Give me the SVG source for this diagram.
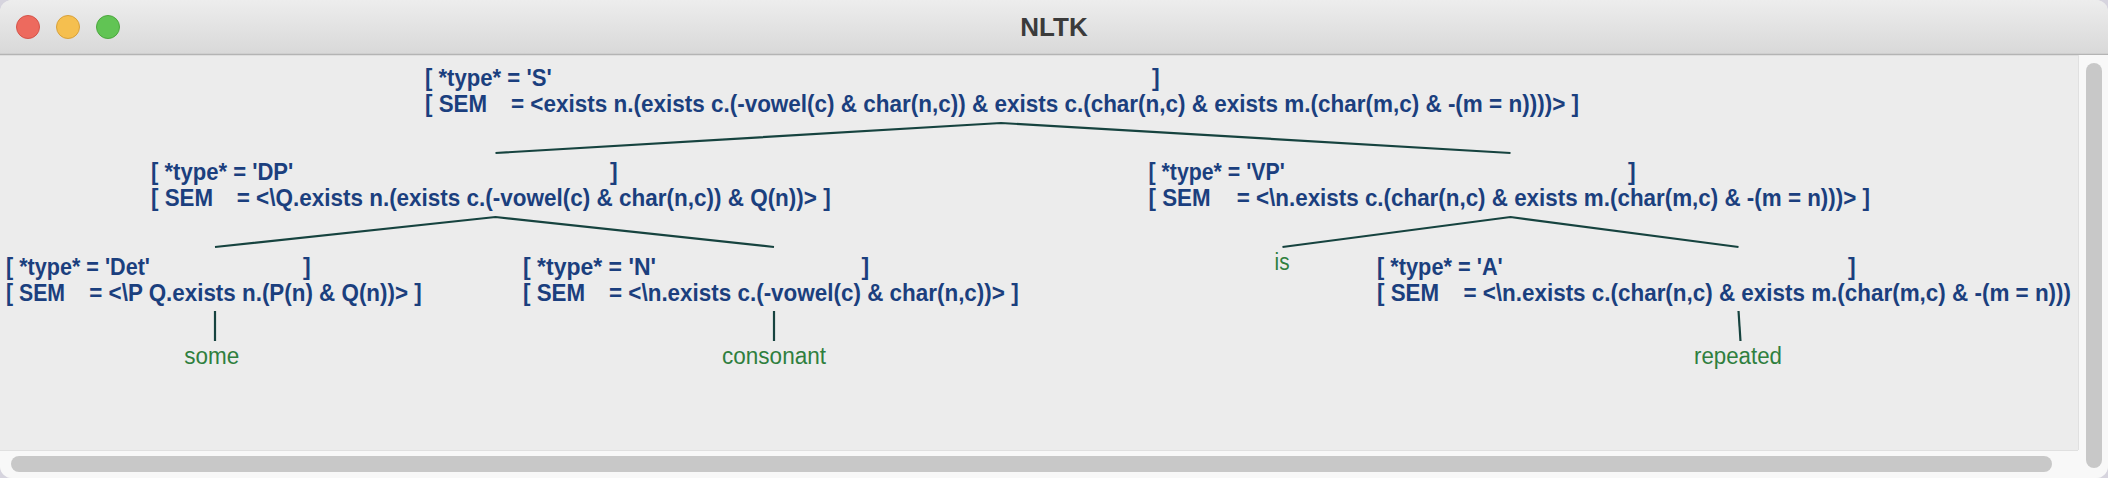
<svg xmlns="http://www.w3.org/2000/svg" width="2108" height="478" viewBox="0 0 2108 478">
<defs>
<linearGradient id="tb" x1="0" y1="0" x2="0" y2="1">
<stop offset="0" stop-color="#ededed"/>
<stop offset="1" stop-color="#d8d8d8"/>
</linearGradient>
<clipPath id="win"><rect x="0" y="0" width="2108" height="478" rx="12" ry="12"/></clipPath>
<style>
.lbl{font-family:"Liberation Sans",Arial,Helvetica,sans-serif;font-size:23px;font-weight:bold;fill:#1b3f7e}
.leaf{font-family:"Liberation Sans",Arial,Helvetica,sans-serif;font-size:23px;fill:#2f7f3e}
.edge{stroke:#16433f;stroke-width:2.2;fill:none}
.title{font-family:"Liberation Sans",Arial,Helvetica,sans-serif;font-size:26px;font-weight:bold;fill:#3b3b3b}
</style>
</defs>
<rect x="0" y="0" width="2108" height="478" fill="#d6d4de"/>
<g id="window" clip-path="url(#win)">
<rect x="0" y="0" width="2108" height="478" fill="#ececec"/>
<rect x="0" y="0" width="2108" height="55" fill="url(#tb)"/>
<line x1="0" y1="54.5" x2="2108" y2="54.5" stroke="#b4b4b4" stroke-width="1.5"/>
<circle cx="28" cy="27" r="11.5" fill="#ed6a5e" stroke="#d4544a" stroke-width="1"/>
<circle cx="68" cy="27" r="11.5" fill="#f5bf4f" stroke="#d8a13b" stroke-width="1"/>
<circle cx="108" cy="27" r="11.5" fill="#61c454" stroke="#4ca73e" stroke-width="1"/>
<text class="title" x="1054" y="36" text-anchor="middle">NLTK</text>
<rect x="2078" y="55" width="30" height="423" fill="#f8f8f8"/>
<line x1="2078.5" y1="55" x2="2078.5" y2="450" stroke="#e0e0e0" stroke-width="1"/>
<rect x="2086" y="63" width="16" height="405" rx="8" ry="8" fill="#c8c8c8"/>
<rect x="0" y="450" width="2078" height="28" fill="#f8f8f8"/>
<line x1="0" y1="450.5" x2="2078" y2="450.5" stroke="#e0e0e0" stroke-width="1"/>
<rect x="11" y="456" width="2041" height="16" rx="8" ry="8" fill="#c8c8c8"/>
</g>
<g id="connectors">
<path class="edge" d="M495.5,153 L1001,123 L1510.5,153"/>
<path class="edge" d="M215,247 L495.5,217 L774,247"/>
<path class="edge" d="M1282.5,247 L1510.5,217 L1738.5,247"/>
<path class="edge" d="M215,311 V341"/>
<path class="edge" d="M774,311 V341"/>
<path class="edge" d="M1738.5,311 L1740.5,341"/>
</g>
<g id="node-S">
<text class="lbl" x="425" y="86" textLength="126.7" lengthAdjust="spacingAndGlyphs">[ *type* = 'S'</text>
<text class="lbl" x="1152" y="86">]</text>
<text class="lbl" x="425" y="112" textLength="62" lengthAdjust="spacingAndGlyphs">[ SEM</text>
<text class="lbl" x="511" y="112" textLength="1068" lengthAdjust="spacingAndGlyphs">= &lt;exists n.(exists c.(-vowel(c) &amp; char(n,c)) &amp; exists c.(char(n,c) &amp; exists m.(char(m,c) &amp; -(m = n))))&gt; ]</text>
</g>
<g id="node-DP">
<text class="lbl" x="151" y="180" textLength="142.3" lengthAdjust="spacingAndGlyphs">[ *type* = 'DP'</text>
<text class="lbl" x="610" y="180">]</text>
<text class="lbl" x="151" y="206" textLength="62" lengthAdjust="spacingAndGlyphs">[ SEM</text>
<text class="lbl" x="236.7" y="206" textLength="594" lengthAdjust="spacingAndGlyphs">= &lt;\Q.exists n.(exists c.(-vowel(c) &amp; char(n,c)) &amp; Q(n))&gt; ]</text>
</g>
<g id="node-VP">
<text class="lbl" x="1148.5" y="180" textLength="136.2" lengthAdjust="spacingAndGlyphs">[ *type* = 'VP'</text>
<text class="lbl" x="1628" y="180">]</text>
<text class="lbl" x="1148.5" y="206" textLength="62" lengthAdjust="spacingAndGlyphs">[ SEM</text>
<text class="lbl" x="1236.7" y="206" textLength="633.3" lengthAdjust="spacingAndGlyphs">= &lt;\n.exists c.(char(n,c) &amp; exists m.(char(m,c) &amp; -(m = n)))&gt; ]</text>
</g>
<g id="node-Det">
<text class="lbl" x="6" y="274.5" textLength="144" lengthAdjust="spacingAndGlyphs">[ *type* = 'Det'</text>
<text class="lbl" x="303" y="274.5">]</text>
<text class="lbl" x="6" y="300.5" textLength="59" lengthAdjust="spacingAndGlyphs">[ SEM</text>
<text class="lbl" x="89.3" y="300.5" textLength="332.4" lengthAdjust="spacingAndGlyphs">= &lt;\P Q.exists n.(P(n) &amp; Q(n))&gt; ]</text>
</g>
<g id="node-N">
<text class="lbl" x="523" y="274.5" textLength="133" lengthAdjust="spacingAndGlyphs">[ *type* = 'N'</text>
<text class="lbl" x="861.6" y="274.5">]</text>
<text class="lbl" x="523" y="300.5" textLength="62" lengthAdjust="spacingAndGlyphs">[ SEM</text>
<text class="lbl" x="609" y="300.5" textLength="409.6" lengthAdjust="spacingAndGlyphs">= &lt;\n.exists c.(-vowel(c) &amp; char(n,c))&gt; ]</text>
</g>
<g id="node-is">
<text class="leaf" x="1274.6" y="270" textLength="15" lengthAdjust="spacingAndGlyphs">is</text>
</g>
<g id="node-A">
<text class="lbl" x="1377" y="274.5" textLength="125.8" lengthAdjust="spacingAndGlyphs">[ *type* = 'A'</text>
<text class="lbl" x="1848" y="274.5">]</text>
<text class="lbl" x="1377" y="300.5" textLength="62" lengthAdjust="spacingAndGlyphs">[ SEM</text>
<text class="lbl" x="1463.4" y="300.5" textLength="607.6" lengthAdjust="spacingAndGlyphs">= &lt;\n.exists c.(char(n,c) &amp; exists m.(char(m,c) &amp; -(m = n)))</text>
</g>
<g id="node-some">
<text class="leaf" x="184.3" y="364" textLength="55" lengthAdjust="spacingAndGlyphs">some</text>
</g>
<g id="node-consonant">
<text class="leaf" x="722" y="364" textLength="104" lengthAdjust="spacingAndGlyphs">consonant</text>
</g>
<g id="node-repeated">
<text class="leaf" x="1694" y="364" textLength="88" lengthAdjust="spacingAndGlyphs">repeated</text>
</g>
</svg>
